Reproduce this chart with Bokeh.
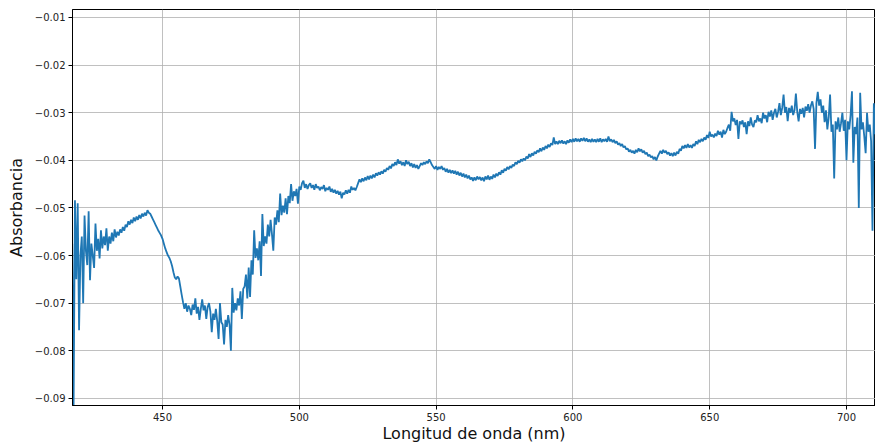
from bokeh.plotting import figure
from bokeh.models import FixedTicker, CustomJSTickFormatter, Range1d, ColumnDataSource
from bokeh.embed import file_html
from bokeh.resources import INLINE

# Wavelength sampling (nm): starts at 417.0 nm, one reading every 0.5 nm
start_nm = 417.0
step_nm = 0.5

# Absorbance readings
absorbancia = [
    -0.0575, -0.0915, -0.0484, -0.0650, -0.0490, -0.0757, -0.0600, -0.0560, -0.0700, -0.0516,
    -0.0590, -0.0620, -0.0507, -0.0652, -0.0575, -0.0600, -0.0626, -0.0533, -0.0590, -0.0565,
    -0.0606, -0.0547, -0.0585, -0.0560, -0.0578, -0.0543, -0.0590, -0.0560, -0.0575, -0.0552,
    -0.0570, -0.0545, -0.0562, -0.0550, -0.0558, -0.0545, -0.0552, -0.0540, -0.0548, -0.0535,
    -0.0540, -0.0528, -0.0535, -0.0525, -0.0532, -0.0520, -0.0528, -0.0518, -0.0525, -0.0515,
    -0.0522, -0.0512, -0.0518, -0.0510, -0.0516, -0.0505, -0.0510, -0.0512, -0.0518, -0.0524,
    -0.0530, -0.0536, -0.0542, -0.0548, -0.0553, -0.0558, -0.0565, -0.0575, -0.0585, -0.0593,
    -0.0600, -0.0605, -0.0612, -0.0622, -0.0635, -0.0646, -0.0650, -0.0644, -0.0648, -0.0665,
    -0.0682, -0.0698, -0.0712, -0.0700, -0.0718, -0.0705, -0.0712, -0.0725, -0.0703, -0.0714,
    -0.0690, -0.0722, -0.0708, -0.0735, -0.0712, -0.0692, -0.0715, -0.0705, -0.0733, -0.0708,
    -0.0700, -0.0718, -0.0761, -0.0722, -0.0735, -0.0712, -0.0738, -0.0775, -0.0700, -0.0740,
    -0.0745, -0.0787, -0.0735, -0.0750, -0.0725, -0.0745, -0.0800, -0.0668, -0.0720, -0.0700,
    -0.0715, -0.0690, -0.0705, -0.0675, -0.0733, -0.0670, -0.0665, -0.0640, -0.0690, -0.0625,
    -0.0687, -0.0610, -0.0640, -0.0547, -0.0605, -0.0585, -0.0610, -0.0570, -0.0643, -0.0513,
    -0.0580, -0.0560, -0.0575, -0.0535, -0.0560, -0.0525, -0.0555, -0.0590, -0.0520, -0.0535,
    -0.0505, -0.0530, -0.0470, -0.0515, -0.0495, -0.0510, -0.0480, -0.0513, -0.0475, -0.0490,
    -0.0450, -0.0485, -0.0465, -0.0475, -0.0460, -0.0491, -0.0455, -0.0462, -0.0448, -0.0443,
    -0.0458, -0.0450, -0.0460, -0.0452, -0.0448, -0.0458, -0.0452, -0.0462, -0.0450, -0.0458,
    -0.0455, -0.0463, -0.0456, -0.0460, -0.0452, -0.0465, -0.0458, -0.0462, -0.0455, -0.0466,
    -0.0460, -0.0468, -0.0462, -0.0470, -0.0464, -0.0472, -0.0466, -0.0480, -0.0468, -0.0472,
    -0.0463, -0.0470, -0.0462, -0.0468, -0.0455, -0.0462, -0.0458, -0.0463, -0.0456, -0.0448,
    -0.0440, -0.0446, -0.0438, -0.0444, -0.0436, -0.0442, -0.0433, -0.0440, -0.0432, -0.0438,
    -0.0430, -0.0436, -0.0427, -0.0432, -0.0425, -0.0430, -0.0423, -0.0428, -0.0420, -0.0424,
    -0.0416, -0.0420, -0.0412, -0.0417, -0.0408, -0.0412, -0.0404, -0.0410, -0.0398, -0.0407,
    -0.0402, -0.0410, -0.0404, -0.0412, -0.0400, -0.0408, -0.0403, -0.0412, -0.0406, -0.0415,
    -0.0408, -0.0416, -0.0410, -0.0418, -0.0412, -0.0406, -0.0410, -0.0404, -0.0408, -0.0402,
    -0.0406, -0.0398, -0.0404, -0.0410, -0.0414, -0.0418, -0.0412, -0.0420, -0.0414, -0.0418,
    -0.0412, -0.0420, -0.0416, -0.0424, -0.0418, -0.0426, -0.0420, -0.0427, -0.0421, -0.0428,
    -0.0422, -0.0430, -0.0424, -0.0432, -0.0426, -0.0434, -0.0428, -0.0436, -0.0430, -0.0438,
    -0.0432, -0.0440, -0.0436, -0.0443, -0.0436, -0.0442, -0.0434, -0.0440, -0.0435, -0.0442,
    -0.0436, -0.0444, -0.0434, -0.0440, -0.0432, -0.0441, -0.0434, -0.0439, -0.0430, -0.0436,
    -0.0428, -0.0433, -0.0425, -0.0430, -0.0421, -0.0426, -0.0418, -0.0422, -0.0414, -0.0419,
    -0.0412, -0.0416, -0.0409, -0.0412, -0.0404, -0.0408, -0.0401, -0.0405, -0.0398, -0.0402,
    -0.0396, -0.0400, -0.0392, -0.0396, -0.0387, -0.0393, -0.0385, -0.0390, -0.0382, -0.0386,
    -0.0379, -0.0383, -0.0375, -0.0381, -0.0373, -0.0378, -0.0370, -0.0375, -0.0367, -0.0372,
    -0.0364, -0.0368, -0.0352, -0.0366, -0.0360, -0.0366, -0.0359, -0.0364, -0.0358, -0.0365,
    -0.0360, -0.0366, -0.0358, -0.0363, -0.0356, -0.0362, -0.0355, -0.0361, -0.0354, -0.0360,
    -0.0355, -0.0361, -0.0354, -0.0359, -0.0353, -0.0360, -0.0354, -0.0361, -0.0356, -0.0362,
    -0.0355, -0.0361, -0.0356, -0.0362, -0.0355, -0.0361, -0.0354, -0.0362, -0.0356, -0.0360,
    -0.0355, -0.0361, -0.0350, -0.0360, -0.0356, -0.0362, -0.0357, -0.0364, -0.0360, -0.0367,
    -0.0364, -0.0370, -0.0366, -0.0373, -0.0370, -0.0377, -0.0375, -0.0382, -0.0378, -0.0384,
    -0.0380, -0.0386, -0.0378, -0.0383, -0.0375, -0.0381, -0.0377, -0.0384, -0.0380, -0.0387,
    -0.0384, -0.0391, -0.0388, -0.0394, -0.0391, -0.0398, -0.0393, -0.0400, -0.0392, -0.0386,
    -0.0380, -0.0386, -0.0378, -0.0384, -0.0380, -0.0387, -0.0383, -0.0390, -0.0385, -0.0391,
    -0.0384, -0.0390, -0.0382, -0.0386, -0.0376, -0.0380, -0.0370, -0.0375, -0.0368, -0.0374,
    -0.0366, -0.0373, -0.0368, -0.0374, -0.0366, -0.0370, -0.0360, -0.0366, -0.0357, -0.0362,
    -0.0355, -0.0360, -0.0352, -0.0357, -0.0347, -0.0353, -0.0340, -0.0350, -0.0346, -0.0352,
    -0.0344, -0.0349, -0.0338, -0.0346, -0.0340, -0.0352, -0.0336, -0.0345, -0.0340, -0.0332,
    -0.0325, -0.0338, -0.0298, -0.0318, -0.0312, -0.0326, -0.0315, -0.0355, -0.0318, -0.0324,
    -0.0316, -0.0330, -0.0320, -0.0345, -0.0318, -0.0328, -0.0310, -0.0325, -0.0330, -0.0316,
    -0.0320, -0.0305, -0.0318, -0.0312, -0.0322, -0.0300, -0.0312, -0.0305, -0.0320, -0.0298,
    -0.0308, -0.0295, -0.0315, -0.0300, -0.0292, -0.0310, -0.0298, -0.0280, -0.0305, -0.0290,
    -0.0262, -0.0300, -0.0288, -0.0318, -0.0290, -0.0300, -0.0285, -0.0305, -0.0295, -0.0260,
    -0.0298, -0.0318, -0.0292, -0.0302, -0.0290, -0.0310, -0.0287, -0.0296, -0.0282, -0.0300,
    -0.0285, -0.0276, -0.0292, -0.0376, -0.0280, -0.0256, -0.0285, -0.0272, -0.0300, -0.0285,
    -0.0320, -0.0295, -0.0335, -0.0310, -0.0262, -0.0340, -0.0325, -0.0438, -0.0318, -0.0335,
    -0.0310, -0.0340, -0.0322, -0.0300, -0.0338, -0.0315, -0.0400, -0.0318, -0.0335, -0.0305,
    -0.0255, -0.0405, -0.0330, -0.0345, -0.0310, -0.0500, -0.0258, -0.0335, -0.0320, -0.0350,
    -0.0385, -0.0300, -0.0340, -0.0325, -0.0360, -0.0548, -0.0280, -0.0345, -0.0330,
]

longitud = [start_nm + step_nm * i for i in range(len(absorbancia))]

x_ticks = [450, 500, 550, 600, 650, 700]
y_ticks = [-0.09, -0.08, -0.07, -0.06, -0.05, -0.04, -0.03, -0.02, -0.01]

x_label = "Longitud de onda (nm)"
y_label = "Absorbancia"

source = ColumnDataSource(data=dict(x=longitud, y=absorbancia))

p = figure(
    width=875, height=445,
    output_backend="svg", toolbar_location=None,
    x_range=Range1d(417.1, 710.6),
    y_range=Range1d(-0.0915, -0.00832),
    min_border_left=72, min_border_right=0,
    min_border_top=9, min_border_bottom=40,
    background_fill_color="white", border_fill_color="white",
)

p.line("x", "y", source=source, line_color="#1f77b4", line_width=1.8)

p.outline_line_color = "black"
p.outline_line_width = 1

font = "DejaVu Sans"
for ax in (p.xaxis[0], p.yaxis[0]):
    ax.axis_line_color = "black"
    ax.axis_line_width = 1
    ax.major_tick_line_color = "black"
    ax.major_tick_line_width = 1
    ax.major_tick_in = 0
    ax.major_tick_out = 4
    ax.minor_tick_line_color = None
    ax.major_label_text_font = font
    ax.major_label_text_font_size = "10px"
    ax.major_label_text_color = "#222222"
    ax.major_label_standoff = 3
    ax.axis_label_text_font = font
    ax.axis_label_text_font_size = "16px"
    ax.axis_label_text_font_style = "normal"
    ax.axis_label_text_color = "#111111"

p.xaxis[0].axis_label_standoff = 0
p.yaxis[0].axis_label_standoff = 6

p.xaxis.ticker = FixedTicker(ticks=x_ticks)
p.yaxis.ticker = FixedTicker(ticks=y_ticks)
p.yaxis.formatter = CustomJSTickFormatter(code="return tick.toFixed(2).replace('-', '\u2212');")
p.xaxis.axis_label = x_label
p.yaxis.axis_label = y_label

p.xgrid.ticker = FixedTicker(ticks=x_ticks)
p.ygrid.ticker = FixedTicker(ticks=y_ticks)
p.grid.grid_line_color = "#b0b0b0"
p.grid.grid_line_width = 0.8

open("out.html", "w").write(file_html(p, INLINE))
